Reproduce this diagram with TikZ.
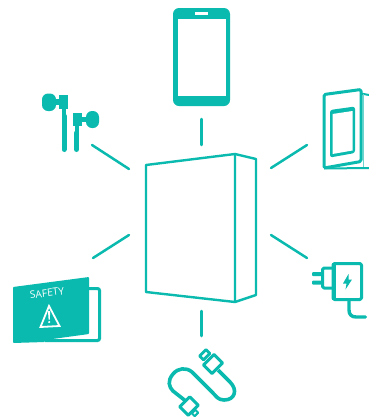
\documentclass[tikz,border=0pt]{standalone}
\usepackage{fontspec}
\setmainfont{Open Sans}
\definecolor{teal1}{RGB}{10,186,174}
\tikzset{
  ray/.style={draw=teal1,line width=2.5pt,line cap=round},
  outl/.style={draw=teal1,line width=2.4pt,line join=round},
  outlb/.style={draw=teal1,line width=3pt,line join=round,line cap=round},
}
\begin{document}
\begin{tikzpicture}[x=1pt,y=-1pt]
\useasboundingbox (0,0) rectangle (369,418);
% central box
\draw[outl] (146,165) -- (235,154) -- (235,302) -- (146,292) -- cycle;
\draw[outl] (235,154) -- (256,159) -- (256,295) -- (235,302);
% rays
\coordinate (r1a) at (201.5,119); \coordinate (r1b) at (201.5,145);
\coordinate (r2a) at (92,145); \coordinate (r2b) at (129,169);
\coordinate (r3a) at (271,168); \coordinate (r3b) at (307,145);
\coordinate (r4a) at (271,235); \coordinate (r4b) at (307,258);
\coordinate (r5a) at (129,235); \coordinate (r5b) at (93,258);
\coordinate (r6a) at (201.5,311); \coordinate (r6b) at (201.5,336);
\foreach \n in {1,...,6} \draw[ray] (r\n a) -- (r\n b);
% phone
\fill[teal1,rounded corners=6pt] (173,8) rectangle (230,106);
\fill[white] (178,19) rectangle (226,96);
\fill[white] (195,12) rectangle (208,14.8);
% earphones
\fill[teal1,rounded corners=6pt] (42,93.5) rectangle (56,111);
\fill[teal1] (55,99) rectangle (60,105);
\fill[teal1] (59,95) rectangle (68,109);
\fill[teal1] (62,108) rectangle (65.5,116);
\draw[teal1,line width=5pt,line cap=round] (64,116) -- (64,149.5);
\fill[teal1,rounded corners=6pt] (86,111) rectangle (99,128);
\fill[teal1] (81,117) rectangle (87,122);
\fill[teal1] (73,113) rectangle (82,126);
\fill[teal1] (75,125) rectangle (78.5,133);
\draw[teal1,line width=5pt,line cap=round] (76.5,133) -- (76.5,149.5);
% manual with device
\draw[teal1,line width=2pt] (361,93.5) -- (369,95);
\draw[teal1,line width=2pt] (324,168.5) -- (369,168);
\draw[teal1!60,line width=1pt] (363.5,94) -- (363.5,167);
\draw[outlb,rounded corners=1.5pt] (324,94.5) -- (361,89.5) -- (361,161.5) -- (324,168) -- cycle;
\fill[teal1,rounded corners=2.5pt] (330,110) -- (355,106.5) -- (355,153) -- (330,157.5) -- cycle;
\fill[white] (332.5,114) -- (352.5,111) -- (352.5,150.5) -- (332.5,154) -- cycle;
% charger
\draw[outlb,rounded corners=1.5pt] (333,263.5) rectangle (361.5,299.5);
\fill[teal1] (332,263) rectangle (336,300);
\draw[outlb,rounded corners=1.5pt] (333,268) -- (322.5,268) -- (322.5,288) -- (333,288);
\fill[teal1,rounded corners=1pt] (312,272) rectangle (322,276);
\fill[teal1,rounded corners=1pt] (312,280.5) rectangle (322,284.5);
\draw[outlb,line width=3.4pt] (349,300) -- (349,310) .. controls (349,314.5) and (351.5,317) .. (356,317) -- (365.5,317);
\fill[teal1] (348.5,274) -- (343,283.5) -- (346.5,283.5) -- (345.5,289.5) -- (352,279.5) -- (348.5,279.5) -- cycle;
% safety leaflet
\draw[teal1,line width=3pt,rounded corners=2pt] (85,288.5) -- (99.5,288.5) -- (99.5,340.5) -- (45,340.5);
\fill[teal1,rounded corners=.8pt] (13,287) -- (89,277) -- (89,334) -- (45,340) -- (45,342) -- (13,343) -- cycle;
\node[text=white,font=\fontsize{10.2}{12}\selectfont,rotate=7,anchor=center,inner sep=0pt] (safety) at (47,293) {SAFETY};
\draw[white,line width=1.8pt,line join=miter] (49,306) -- (59.5,326) -- (40.5,327) -- cycle;
\fill[white] (48,311) -- (50.2,311) -- (49.8,319.5) -- (48.6,319.5) -- cycle;
\fill[white] (49.2,322) circle (1.2);
% cable
\draw[teal1,line width=3.6pt,line join=round] (218,370) -- (230,382) .. controls (238,390) and (235,400) .. (224,400) .. controls (218,400) and (216,396) .. (213,393) -- (192,372) .. controls (186,367) and (178,368) .. (173,374) .. controls (167,381) and (169,387) .. (173,391) -- (187,402);
% plug top
\begin{scope}[shift={(213,364)},rotate=45]
\draw[teal1,line width=3pt,fill=white,line join=round] (-7.5,-6) rectangle (7.5,6);
\end{scope}
\begin{scope}[shift={(206,356)},rotate=45]
\draw[teal1,line width=2.8pt,fill=white,line join=round] (-4.5,-4.5) rectangle (4.5,1);
\end{scope}
% plug bottom
\begin{scope}[shift={(189,406)},rotate=45]
\draw[teal1,line width=3pt,fill=white,line join=round] (-7,-6) rectangle (7,6);
\end{scope}
\begin{scope}[shift={(195,413)},rotate=45]
\draw[teal1,line width=2pt,fill=white,line join=round] (-2.5,-2) rectangle (2.5,2);
\end{scope}
\end{tikzpicture}
\end{document}
